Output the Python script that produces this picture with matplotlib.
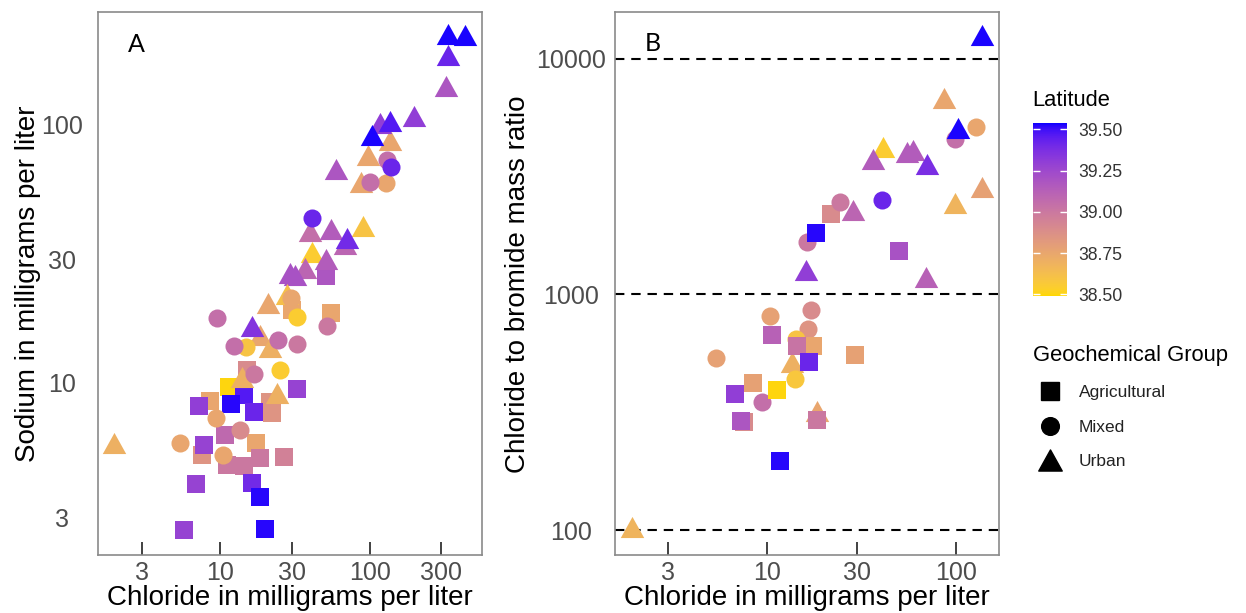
import numpy as np
import matplotlib
matplotlib.use("Agg")
import matplotlib.pyplot as plt
from matplotlib.path import Path
from matplotlib.colors import ListedColormap, Normalize
from matplotlib.cm import ScalarMappable
from matplotlib.lines import Line2D

plt.rcParams['font.family'] = ['Liberation Sans', 'DejaVu Sans']

# ---------------- data ----------------
groups = ['Agricultural', 'Mixed', 'Urban']

# Panel A: sodium vs chloride (drawing order)
a_group = (['Agricultural'] * 26) + (['Urban'] * 30) + (['Mixed'] * 19)
a_chloride = [50.8, 30.0, 54.8, 15.1, 11.5, 8.47, 7.26, 21.5, 22.0, 32.4, 14.3, 11.8, 16.8,
              10.8, 7.55, 7.78, 17.3, 11.1, 14.3, 18.3, 26.8, 6.88, 16.4, 18.3, 5.74, 19.9,
              18.4, 16.3, 136, 97, 87, 117, 136, 103.5, 197, 322, 333, 332, 431, 59.3, 39.7,
              54.5, 90.2, 68, 69.8, 40.8, 36.8, 29.2, 31.5, 50.5, 20.9, 27.7, 21.5, 13.9, 23.8,
              1.96,
              127, 129.4, 137.4, 100, 40.8, 29.6, 32.3, 51.6, 9.55, 14.9, 12.4, 24.4, 32.7,
              25.1, 16.9, 9.29, 13.6, 5.42, 10.4]
a_sodium = [25.9, 19.2, 18.7, 11.2, 9.67, 8.51, 8.15, 8.44, 7.64, 9.45, 8.98, 8.29, 7.72,
            6.28, 5.26, 5.75, 5.84, 4.81, 4.77, 5.11, 5.15, 4.04, 4.09, 3.61, 2.69, 2.72,
            15.4, 16.6, 87.5, 76.5, 60, 102, 104, 91.4, 108, 141, 187, 226, 224, 67.8, 38.8,
            39.5, 40.7, 34.6, 36.5, 32.3, 27.8, 26.6, 26.2, 30.3, 20.4, 22.1, 13.8, 10.5, 9.12,
            5.84,
            59.7, 73.1, 68.7, 60.3, 43.4, 21.3, 18.0, 16.6, 17.8, 13.8, 13.9, 14.7, 14.2,
            11.2, 10.8, 7.30, 6.58, 5.83, 5.26]
a_lat = [39.18, 38.75, 38.75, 38.90, 38.50, 38.75, 39.30, 38.85, 38.85, 39.28, 39.47, 39.52, 39.42,
         39.08, 38.85, 39.28, 38.75, 39.00, 39.00, 39.00, 38.95, 39.28, 39.40, 39.52, 39.28, 39.52,
         38.75, 39.35, 38.75, 38.75, 38.75, 39.30, 39.47, 39.53, 39.30, 39.18, 39.42, 39.53, 39.53,
         39.18, 39.05, 39.15, 38.60, 39.10, 39.40, 38.55, 39.10, 39.20, 39.20, 39.15, 38.75, 38.62,
         38.70, 38.70, 38.70, 38.70,
         38.75, 39.05, 39.42, 39.05, 39.42, 38.75, 38.55, 39.00, 39.05, 38.60, 39.05, 39.05, 39.00,
         38.55, 39.00, 38.75, 38.90, 38.75, 38.75]

# Panel B: chloride/bromide ratio vs chloride (drawing order)
b_group = ['Mixed', 'Mixed'] + ['Urban'] * 16 + ['Agricultural', 'Mixed', 'Mixed', 'Mixed',
           'Agricultural', 'Agricultural'] + ['Mixed'] * 7 + ['Agricultural'] * 12
b_chloride = [127.6, 98.9,
              136.8, 86.5, 102.9, 41.0, 36.3, 54.9, 59.0, 70.0, 136.8, 98.9, 28.6, 16.1, 69.5,
              13.55, 18.4, 1.94,
              21.9, 24.4, 40.5, 16.4, 18.2, 50.1,
              10.4, 17.1, 16.5, 14.3, 5.40, 14.1, 9.41,
              10.7, 17.6, 14.4, 16.7, 29.2, 8.44, 11.4, 6.80, 7.59, 7.30, 18.4, 11.8]
b_ratio = [5110, 4540,
           12600, 6780, 5060, 4230, 3770, 4020, 4080, 3590, 2860, 2430, 2280, 1270, 1190,
           516, 321, 103,
           2190, 2470, 2520, 1670, 1820, 1530,
           807, 861, 714, 649, 537, 439, 349,
           674, 601, 601, 516, 551, 420, 394, 376, 287, 289, 292, 196]
b_lat = [38.75, 39.05,
         39.53, 38.75, 39.53, 38.55, 39.15, 39.15, 39.15, 39.38, 38.78, 38.68, 39.10, 39.30, 39.12,
         38.70, 38.75, 38.68,
         38.90, 39.00, 39.42, 39.00, 39.52, 39.20,
         38.78, 38.90, 38.85, 38.60, 38.78, 38.58, 39.05,
         39.12, 38.75, 39.02, 39.42, 38.78, 38.78, 38.50, 39.30, 38.90, 39.18, 39.00, 39.52]

a_xticks = [3, 10, 30, 100, 300]
a_yticks = [3, 10, 30, 100]
b_xticks = [3, 10, 30, 100]
b_yticks = [100, 1000, 10000]
b_hlines = [100, 1000, 10000]
lat_ticks = [38.50, 38.75, 39.00, 39.25, 39.50]
lat_range = (38.49, 39.54)

# ---------------- colour scale (Lab interpolation gold -> blue) ----------------
WHITE = np.array([0.95047, 1.0, 1.08883])
M = np.array([[0.4124564, 0.3575761, 0.1804375],
              [0.2126729, 0.7151522, 0.0721750],
              [0.0193339, 0.1191920, 0.9503041]])
Minv = np.linalg.inv(M)


def rgb2lab(rgb):
    c = np.asarray(rgb, float)
    lin = np.where(c <= 0.04045, c / 12.92, ((c + 0.055) / 1.055) ** 2.4)
    t = (M @ lin) / WHITE
    d = 6 / 29
    f = np.where(t > d ** 3, np.cbrt(t), t / (3 * d * d) + 4 / 29)
    return np.array([116 * f[1] - 16, 500 * (f[0] - f[1]), 200 * (f[1] - f[2])])


def lab2rgb(lab):
    L, a, b = lab
    fy = (L + 16) / 116
    fx = fy + a / 500
    fz = fy - b / 200
    d = 6 / 29
    f = np.array([fx, fy, fz])
    t = np.where(f > d, f ** 3, 3 * d * d * (f - 4 / 29))
    xyz = t * WHITE
    lin = Minv @ xyz
    lin = np.clip(lin, 0, 1)
    c = np.where(lin <= 0.0031308, 12.92 * lin, 1.055 * lin ** (1 / 2.4) - 0.055)
    return np.clip(c, 0, 1)


lo = rgb2lab([1.0, 215 / 255, 0.0])
hi = rgb2lab([0.0, 0.0, 1.0])
cols = [lab2rgb(lo + t * (hi - lo)) for t in np.linspace(0, 1, 256)]
cmap = ListedColormap(cols)
norm = Normalize(*lat_range)

# ---------------- markers ----------------
tri = Path([(-1, -0.9), (1, -0.9), (0, 0.9), (-1, -0.9)],
           [Path.MOVETO, Path.LINETO, Path.LINETO, Path.CLOSEPOLY])
MARKERS = {'Agricultural': 's', 'Mixed': 'o', 'Urban': tri}
MSIZE = {'Agricultural': 13.3, 'Mixed': 13.0, 'Urban': 16.9}

W, H = 1246, 613
fig = plt.figure(figsize=(W / 100, H / 100), dpi=100)

axA = fig.add_axes([97.7 / W, 58 / H, 384 / W, 543 / H])
axB = fig.add_axes([615 / W, 58 / H, 384 / W, 543 / H])

TICKCOL = '#4D4D4D'


def style(ax, xt, yt, ypad):
    ax.set_xscale('log')
    ax.set_yscale('log')
    ax.xaxis.set_major_locator(matplotlib.ticker.FixedLocator(xt))
    ax.yaxis.set_major_locator(matplotlib.ticker.FixedLocator(yt))
    ax.xaxis.set_minor_locator(matplotlib.ticker.NullLocator())
    ax.yaxis.set_minor_locator(matplotlib.ticker.NullLocator())
    ax.set_xticklabels([str(v) for v in xt])
    ax.set_yticklabels([str(v) for v in yt])
    for sp in ax.spines.values():
        sp.set_color('#8A8A8A')
        sp.set_linewidth(1.2)
    ax.tick_params(axis='x', direction='in', length=9.5, width=1.3, color='#333333',
                   labelsize=18, labelcolor=TICKCOL, pad=4.5)
    ax.tick_params(axis='y', length=0, labelsize=18, labelcolor=TICKCOL, pad=ypad)
    for lab in ax.get_yticklabels():
        lab.set_horizontalalignment('center')


def draw(ax, xs, ys, lats, grps):
    for x, y, la, g in zip(xs, ys, lats, grps):
        ax.scatter([x], [y], marker=MARKERS[g], s=MSIZE[g] ** 2, color=cmap(norm(la)),
                   linewidths=0, zorder=3)


draw(axA, a_chloride, a_sodium, a_lat, a_group)
axA.set_xlim(10 ** 0.181, 10 ** 2.746)
axA.set_ylim(10 ** 0.333, 10 ** 2.438)
style(axA, a_xticks, a_yticks, 25.7)

for yv in b_hlines:
    axB.axhline(yv, color='black', lw=1.5, dashes=(4.5, 3.3), zorder=1)
draw(axB, b_chloride, b_ratio, b_lat, b_group)
axB.set_xlim(10 ** 0.199, 10 ** 2.227)
axB.set_ylim(10 ** 1.894, 10 ** 4.198)
style(axB, b_xticks, b_yticks, 31.7)

# panel letters
fig.text(136 / W, 1 - 44 / H, 'A', fontsize=18, family=['Lato', 'DejaVu Sans'],
         ha='center', va='center')
fig.text(652.5 / W, 1 - 43.7 / H, 'B', fontsize=18, family=['Lato', 'DejaVu Sans'],
         ha='center', va='center')

# axis titles
fig.text(289.7 / W, 1 - 598 / H, 'Chloride in milligrams per liter', fontsize=20,
         ha='center', va='center')
fig.text(807 / W, 1 - 598 / H, 'Chloride in milligrams per liter', fontsize=20,
         ha='center', va='center')
fig.text(28 / W, 1 - 284 / H, 'Sodium in milligrams per liter', fontsize=20,
         ha='center', va='center', rotation=90)
fig.text(518 / W, 1 - 284 / H, 'Chloride to bromide mass ratio', fontsize=20,
         ha='center', va='center', rotation=90)

# colour bar
cax = fig.add_axes([1032.7 / W, (H - 296) / H, 34.6 / W, 173.3 / H])
cb = fig.colorbar(ScalarMappable(norm=norm, cmap=cmap), cax=cax)
cb.outline.set_visible(False)
cb.set_ticks(lat_ticks)
cb.set_ticklabels(['%.2f' % v for v in lat_ticks])
cax.tick_params(axis='y', direction='in', length=5, width=1.0, color='white',
                left=True, right=True, labelsize=12.7, labelcolor='#333333', pad=8)
fig.text(1032.7 / W, 1 - 100.7 / H, 'Latitude', fontsize=15.8, ha='left', va='center')

# shape legend
handles = [Line2D([], [], marker=MARKERS[g], color='black', linestyle='None',
                  markersize=MSIZE[g] * (0.98 if g != 'Urban' else 1.0)) for g in groups]
leg = fig.legend(handles, groups, title='Geochemical Group', loc='upper left',
                 bbox_to_anchor=(1032.6 / W, 1 - 345.0 / H), frameon=False,
                 alignment='left', fontsize=12.5, title_fontsize=15.8,
                 borderpad=0, borderaxespad=0, handlelength=2.0, handletextpad=0.67,
                 labelspacing=1.11)
for t in leg.get_texts():
    t.set_color('#222222')

fig.savefig('out.png', dpi=100)
